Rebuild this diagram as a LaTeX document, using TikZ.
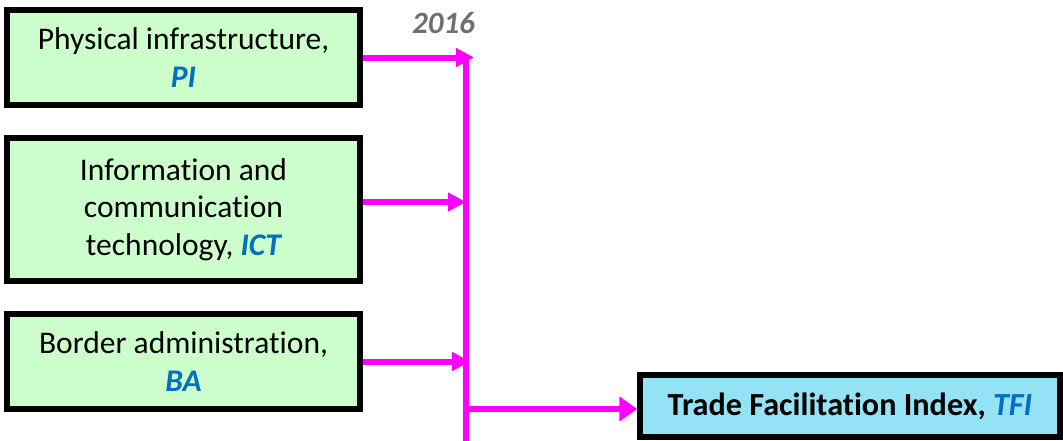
\documentclass[tikz,border=0pt]{standalone}
\usepackage{fontspec}
\setmainfont{Carlito}[Ligatures=NoCommon]
\usetikzlibrary{arrows.meta}
\definecolor{boxgreen}{HTML}{CCFFCC}
\definecolor{boxblue}{HTML}{93E3F5}
\definecolor{abvblue}{HTML}{0070C0}
\definecolor{yeargray}{HTML}{6F6F6F}
\definecolor{mag}{HTML}{FF00FF}
\newcommand\abv[1]{\textcolor{abvblue}{\bfseries\itshape #1}}
\begin{document}
\begin{tikzpicture}[x=1pt,y=-1pt,
  factor/.style={draw=black,line width=5.5pt,fill=boxgreen,minimum width=353pt,
    align=center,inner sep=0pt,font=\fontsize{31.5}{37.5}\selectfont},
  result/.style={draw=black,line width=5.5pt,fill=boxblue,minimum width=420pt,
    minimum height=62pt,align=center,inner sep=0pt,font=\fontsize{32.2}{37.5}\selectfont\bfseries},
  link/.style={draw=mag,line width=6pt},
  linkarrow/.style={link,-{Triangle[length=18pt,width=18pt]}},
  bigarrow/.style={link,-{Triangle[length=18pt,width=24pt]}}]
\useasboundingbox (0,0) rectangle (1063,440);
\node[factor,minimum height=95pt] (pi) at (183.5,57.5)
  {Physical infrastructure,\\ \abv{PI}};
\node[factor,minimum height=143pt] (ict) at (183.5,209.5)
  {Information and\\ communication\\ technology, \abv{ICT}};
\node[factor,minimum height=95pt] (ba) at (183.5,361.5)
  {Border administration,\\ \abv{BA}};
\node[result] (tfi) at (850,406) {Trade Facilitation Index, \abv{TFI}};
\node[font=\fontsize{31}{34}\selectfont\bfseries\itshape,text=yeargray,inner sep=0pt,anchor=base]
  (year) at (443.5,33) {2016};
\coordinate (vtop) at (466,55);
\coordinate (vbot) at (466,443);
\coordinate (vpi) at (474,57.5);
\coordinate (vict) at (466,202);
\coordinate (vba) at (470,361.5);
\coordinate (vtfi) at (466,409);
\draw[link] (vtop) -- (vbot);
\draw[linkarrow] (pi.east) -- (vpi);
\draw[linkarrow] (ict.east |- vict) -- (vict);
\draw[linkarrow] (ba.east) -- (vba);
\draw[bigarrow] (vtfi) -- (tfi.west |- vtfi);
\end{tikzpicture}
\end{document}
